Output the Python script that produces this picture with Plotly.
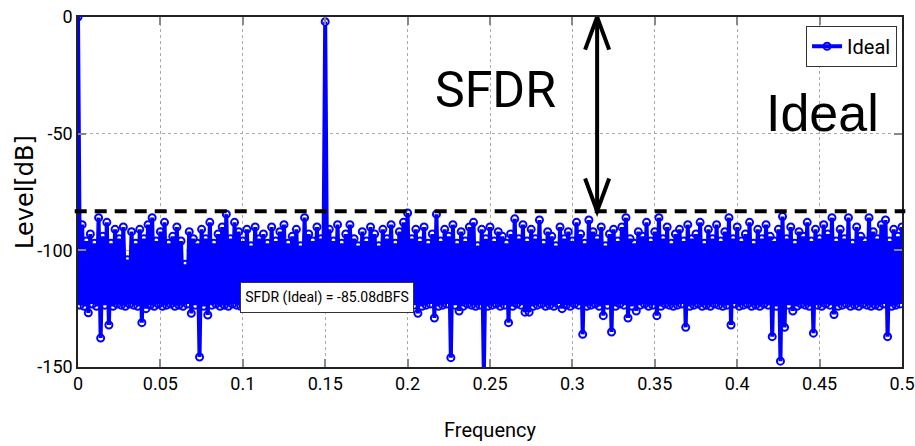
import numpy as np
import plotly.graph_objects as go

# ---------------- data ----------------
series_name = "Ideal"
bin_step = 0.00125          # frequency spacing of the plotted bins
n_points = 401              # 0 .. 0.5

# levels at even bins (tops of the noise comb, DC, tone), dB
peak_levels = [
    0, -89, -96, -93, -97, -86, -94, -88, -97, -91,
    -95, -90, -104, -92, -97, -91, -95, -89, -86, -96,
    -92, -88, -97, -94, -90, -96, -106, -92, -95, -97,
    -91, -95, -88, -97, -93, -90, -84.5, -95, -88, -92,
    -96, -91, -98, -90, -95, -93, -97, -90, -96, -92,
    -89, -97, -94, -91, -98, -86, -93, -96, -90, -95,
    -2, -91, -96, -89, -97, -93, -89, -95, -98, -92,
    -96, -90, -93, -98, -91, -95, -89, -97, -92, -88,
    -84, -95, -91, -96, -90, -97, -93, -84.5, -96, -91,
    -94, -89, -97, -92, -96, -90, -88, -98, -91, -95,
    -90, -96, -92, -94, -97, -93, -86.5, -95, -89, -96,
    -91, -95, -87, -97, -92, -94, -98, -90, -95, -92,
    -96, -88, -93, -97, -87, -92, -95, -90, -98, -93,
    -91, -96, -90, -86, -95, -97, -92, -94, -88, -96,
    -92, -86, -95, -90, -97, -93, -91, -96, -89, -95,
    -93, -88, -97, -91, -95, -89, -96, -92, -86, -95,
    -90, -96, -93, -88, -97, -91, -95, -89, -94, -96,
    -91, -85.5, -95, -90, -97, -92, -94, -88, -96, -91,
    -95, -89, -93, -86, -96, -91, -95, -86, -97, -90,
    -94, -96, -86, -92, -95, -89, -87, -96, -91, -94,
    -90,
]

# levels at odd bins (bottom of the noise floor, with the deeper dips), dB
trough_levels = [
    -123.5, -124, -126.8, -123, -124, -137.6, -123.5, -132, -124, -123,
    -123.5, -124, -123, -123.5, -124, -131, -125, -123.5, -124, -123,
    -124, -123.5, -123, -124, -123.5, -124, -123, -127, -123.5, -145.7,
    -124, -127.7, -123.5, -123, -124, -123.5, -124, -123, -123.5, -124,
    -123.5, -123, -124, -123.5, -124, -123, -123.5, -124, -123, -123.5,
    -124, -123.5, -123, -124, -123.5, -124, -123, -123.5, -124, -123.5,
    -124, -123, -123.5, -124, -123.5, -123, -124, -123.5, -124, -123,
    -123.5, -124, -123, -123.5, -124, -123.5, -123, -124, -123.5, -124,
    -123, -123.5, -127, -124, -123.5, -123, -129, -124, -123.5, -123,
    -146, -123.5, -126, -124, -123, -123.5, -124, -123.5, -153, -124,
    -123.5, -123, -124, -123.5, -131, -124, -123, -123.5, -126.5, -126.5,
    -124, -123.5, -123, -124, -123.5, -124, -123, -125, -123.5, -124,
    -123, -123.5, -136, -124, -123.5, -123, -124, -128, -123.5, -135,
    -124, -123, -123.5, -129, -124, -126, -123.5, -123, -124, -123.5,
    -128, -124, -123, -123.5, -124, -123.5, -123, -133, -124, -123.5,
    -123, -124, -123.5, -124, -123, -123.5, -124, -123.5, -132, -123,
    -124, -123.5, -123, -124, -123.5, -124, -123, -123.5, -137, -124,
    -147.5, -133, -123.5, -126, -124, -123, -123.5, -124, -135.5, -123.5,
    -124, -123, -123.5, -127.5, -124, -123.5, -123, -124, -123.5, -124,
    -123, -123.5, -124, -123.5, -124, -123, -137, -124, -123.5, -123,
]

sfdr_text_value = "-85.08"
sfdr_line_level = -83.2       # dashed SFDR marker line as drawn
arrow_freq = 0.315
datatip_freq = 0.1508
datatip_level = -120.2

x_tick_vals = [0, 0.05, 0.1, 0.15, 0.2, 0.25, 0.3, 0.35, 0.4, 0.45, 0.5]
x_tick_text = ["0", "0.05", "0.1", "0.15", "0.2", "0.25", "0.3", "0.35", "0.4", "0.45", "0.5"]
y_tick_vals = [-150, -100, -50, 0]
y_tick_text = ["-150", "-100", "-50", "0"]
x_title = "Frequency"
y_title = "Level[dB]"

# ---------------- build series ----------------
freq = np.arange(n_points) * bin_step
levels = []
for k in range(len(trough_levels)):
    levels.append(peak_levels[k])
    levels.append(trough_levels[k])
levels.append(peak_levels[-1])

BLUE = "#0000ff"
SANS = "Liberation Sans, Arial, sans-serif"
ROBOTO = "Roboto, Liberation Sans, Arial, sans-serif"

fig = go.Figure()
fig.add_trace(go.Scatter(
    x=freq, y=levels, name=series_name, mode="lines+markers",
    line=dict(color=BLUE, width=4, simplify=False),
    marker=dict(symbol="circle-open", size=7, color=BLUE, line=dict(width=2, color=BLUE)),
))

# dashed SFDR level line
fig.add_shape(type="line", xref="paper", yref="y", x0=-0.004, x1=1.004,
              y0=sfdr_line_level, y1=sfdr_line_level,
              line=dict(color="black", width=4, dash="12px,8px"))
# double-headed arrow
fig.add_shape(type="line", xref="x", yref="y", x0=arrow_freq, x1=arrow_freq,
              y0=0, y1=sfdr_line_level, line=dict(color="black", width=4))
dx, dy = 0.0073, 14
fig.add_shape(type="path", xref="x", yref="y",
              path=f"M {arrow_freq-dx},{-dy} L {arrow_freq},0 L {arrow_freq+dx},{-dy}",
              line=dict(color="black", width=4))
fig.add_shape(type="path", xref="x", yref="y",
              path=f"M {arrow_freq-dx},{sfdr_line_level+dy} L {arrow_freq},{sfdr_line_level} L {arrow_freq+dx},{sfdr_line_level+dy}",
              line=dict(color="black", width=4))

fig.add_annotation(x=0.2536, y=-31.3, xref="x", yref="y", text="SFDR", showarrow=False,
                   font=dict(family=ROBOTO, size=50, color="black"))
fig.add_annotation(x=0.4518, y=-41.1, xref="x", yref="y", text="Ideal", showarrow=False,
                   font=dict(family=SANS, size=52, color="black"))
fig.add_annotation(x=datatip_freq, y=datatip_level, xref="x", yref="y",
                   text=f"SFDR (Ideal) = {sfdr_text_value}dBFS", showarrow=False,
                   font=dict(family=ROBOTO, size=14, color="black"),
                   width=170, height=27,
                   bgcolor="white", bordercolor="#333", borderwidth=1, borderpad=1)
# y-axis title, placed as in the reference
fig.add_annotation(x=-0.0643, y=0.5, xref="paper", yref="paper", text=y_title,
                   showarrow=False, textangle=-90, xanchor="center", yanchor="middle",
                   font=dict(family="DejaVu Sans", size=24, color="black"))

axis_common = dict(
    showline=True, linecolor="#222", linewidth=1.5, mirror="ticks",
    ticks="inside", ticklen=8, tickcolor="#888", tickwidth=1.5,
    showgrid=True, gridcolor="#aaa", gridwidth=1, griddash="dot",
    zeroline=False, automargin=False, ticklabeloverflow="allow",
    tickfont=dict(family=ROBOTO, size=18, color="black"),
)

fig.update_xaxes(range=[0, 0.5], tickvals=x_tick_vals, ticktext=x_tick_text,
                 title=dict(text=x_title, font=dict(family=ROBOTO, size=20, color="black"), standoff=30),
                 **axis_common)
fig.update_yaxes(range=[-150, 0], tickvals=y_tick_vals, ticktext=y_tick_text,
                 **axis_common)

fig.update_layout(
    width=915, height=446,
    margin=dict(l=78, r=13, t=17, b=79),
    paper_bgcolor="white", plot_bgcolor="white",
    showlegend=True,
    legend=dict(x=0.994, y=0.975, xanchor="right", yanchor="top",
                bgcolor="white", bordercolor="#333", borderwidth=1,
                font=dict(family=ROBOTO, size=20, color="black"),
                itemwidth=30, tracegroupgap=0),
)

# remove the default 8px page margin so the figure sits at the window origin
fig.write_html("out.html", config={"displayModeBar": False},
               post_script="document.body.style.margin='0px';")
